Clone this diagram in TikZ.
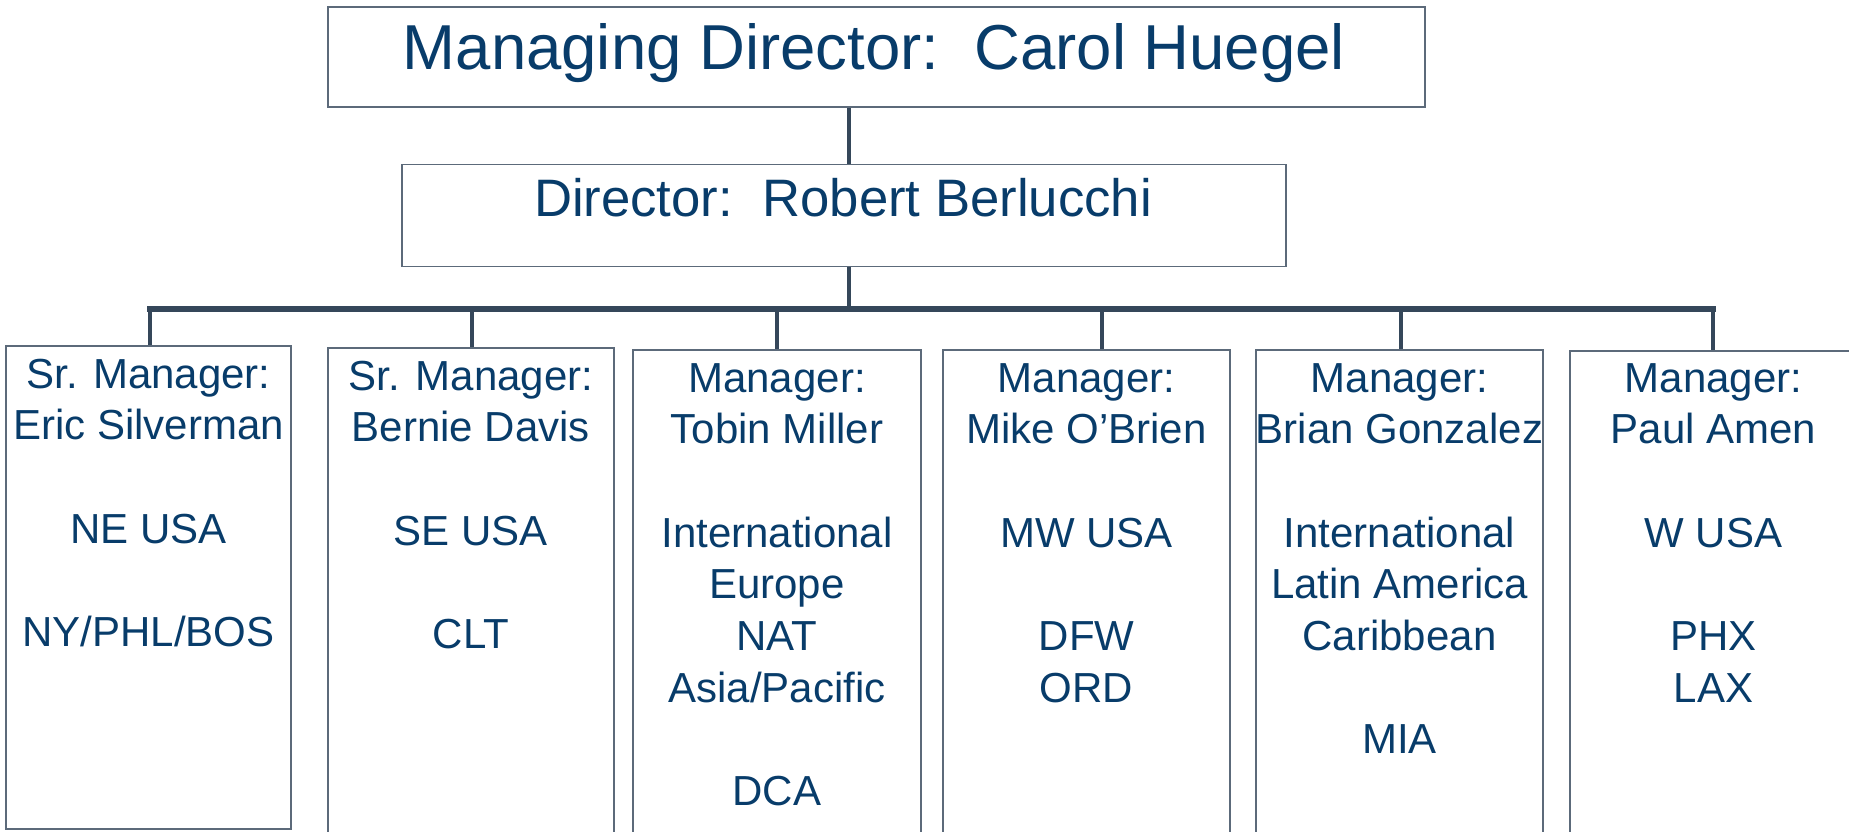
\documentclass[tikz,border=0pt]{standalone}
\usepackage{fontspec}
\setmainfont{Liberation Sans}
\definecolor{txtnavy}{RGB}{8,60,106}
\definecolor{linegray}{RGB}{53,71,90}
\definecolor{boxgray}{RGB}{92,106,122}
\begin{document}
\begin{tikzpicture}[x=1pt,y=-1pt,
  box/.style={draw=boxgray,line width=1.4pt,rectangle,inner sep=0pt},
  mgrtext/.style={anchor=base,inner sep=0pt,align=center,text=txtnavy,
    font=\fontsize{42}{51.7}\selectfont},
  conn/.style={draw=linegray,line width=3.6pt},
  busline/.style={draw=linegray,line width=5.6pt,line cap=rect}]
\useasboundingbox (0,0) rectangle (1849,832);
\clip (0,0) rectangle (1849,832);
% top boxes
\node[box,minimum width=1097pt,minimum height=100pt] (md) at (876.5,57) {};
\node[anchor=base,inner sep=0pt,text=txtnavy,font=\fontsize{63.5}{70}\selectfont] (mdt) at (874,70) {Managing Director:\ \ Carol Huegel};
\node[box,minimum width=884pt,minimum height=102pt] (dir) at (844,215.5) {};
\node[anchor=base,inner sep=0pt,text=txtnavy,font=\fontsize{52.7}{60}\selectfont] (dirt) at (843,216) {Director:\ \ Robert Berlucchi};
% manager boxes
\node[box,minimum width=285pt,minimum height=483pt] (m1) at (148.5,587.5) {};
\node[box,minimum width=286pt,minimum height=520pt] (m2) at (471,608) {};
\node[box,minimum width=288pt,minimum height=520pt] (m3) at (777,610) {};
\node[box,minimum width=287pt,minimum height=520pt] (m4) at (1086.5,610) {};
\node[box,minimum width=287pt,minimum height=520pt] (m5) at (1399.5,610) {};
\node[box,minimum width=287pt,minimum height=520pt] (m6) at (1713.5,611) {};
% manager texts (anchor = baseline of last line)
\node[mgrtext] (t1) at (148.5,{388+5*51.7}) {Sr. Manager:\\Eric Silverman\\ \\NE USA\\ \\NY/PHL/BOS};
\node[mgrtext] (t2) at (471,{390+5*51.7}) {Sr. Manager:\\Bernie Davis\\ \\SE USA\\ \\CLT};
\node[mgrtext] (t3) at (777,{392+8*51.7}) {Manager:\\Tobin Miller\\ \\International\\Europe\\NAT\\Asia/Pacific\\ \\DCA};
\node[mgrtext] (t4) at (1086.5,{392+6*51.7}) {Manager:\\Mike O’Brien\\ \\MW USA\\ \\DFW\\ORD};
\node[mgrtext] (t5) at (1399.5,{392+7*51.7}) {Manager:\\Brian Gonzalez\\ \\International\\Latin America\\Caribbean\\ \\MIA};
\node[mgrtext] (t6) at (1713.5,{392+6*51.7}) {Manager:\\Paul Amen\\ \\W USA\\ \\PHX\\LAX};
% connectors
\coordinate (d1) at (150,309);
\coordinate (d2) at (472,309);
\coordinate (d3) at (777,309);
\coordinate (d4) at (1102,309);
\coordinate (d5) at (1401,309);
\coordinate (d6) at (1713,309);
\coordinate (dc) at (849,309);
\draw[conn] ([xshift=-27.5pt]md.south) -- ([xshift=-27.5pt]md.south |- dir.north);
\draw[conn] ([xshift=5pt]dir.south) -- (dc);
\draw[busline] (d1) -- (d6);
\draw[conn] (d1) -- (d1 |- m1.north);
\draw[conn] (d2) -- (d2 |- m2.north);
\draw[conn] (d3) -- (d3 |- m3.north);
\draw[conn] (d4) -- (d4 |- m4.north);
\draw[conn] (d5) -- (d5 |- m5.north);
\draw[conn] (d6) -- (d6 |- m6.north);
\end{tikzpicture}
\end{document}
